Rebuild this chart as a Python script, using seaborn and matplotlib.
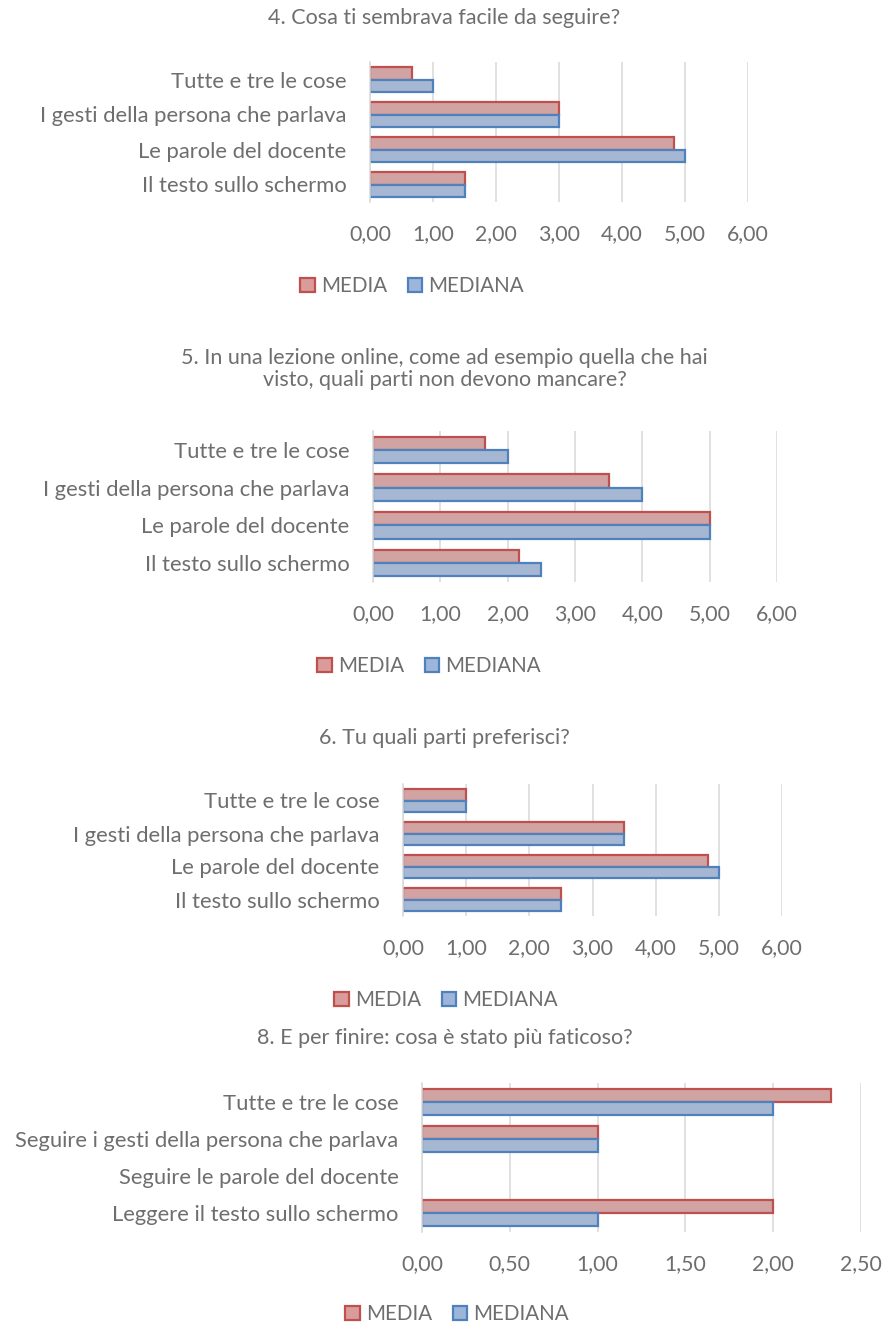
import matplotlib
matplotlib.use("Agg")
import matplotlib.pyplot as plt
import seaborn as sns
import pandas as pd
from matplotlib.patches import Patch
from matplotlib.ticker import FuncFormatter, MultipleLocator

# categorie (dall'alto verso il basso, come nel grafico)
categorie_lezione = ["Tutte e tre le cose", "I gesti della persona che parlava",
                     "Le parole del docente", "Il testo sullo schermo"]
categorie_fatica = ["Tutte e tre le cose", "Seguire i gesti della persona che parlava",
                    "Seguire le parole del docente", "Leggere il testo sullo schermo"]

# domanda 4
q4_media = [0.67, 3.00, 4.83, 1.50]
q4_mediana = [1.00, 3.00, 5.00, 1.50]
# domanda 5
q5_media = [1.67, 3.50, 5.00, 2.17]
q5_mediana = [2.00, 4.00, 5.00, 2.50]
# domanda 6
q6_media = [1.00, 3.50, 4.83, 2.50]
q6_mediana = [1.00, 3.50, 5.00, 2.50]
# domanda 8
q8_media = [2.33, 1.00, 0.00, 2.00]
q8_mediana = [2.00, 1.00, 0.00, 1.00]

titoli = ["4. Cosa ti sembrava facile da seguire?",
          "5. In una lezione online, come ad esempio quella che hai\nvisto, quali parti non devono mancare?",
          "6. Tu quali parti preferisci?",
          "8. E per finire: cosa è stato più faticoso?"]

FILL = {"MEDIA": "#D99C9B", "MEDIANA": "#9DB5DA"}
EDGE = {"MEDIA": "#C0504D", "MEDIANA": "#4F81BD"}
GREY = "#6E6E6E"
FONT = ["Lato", "DejaVu Sans"]
FS = 15.8

W, H = 889, 1326
fig = plt.figure(figsize=(W / 100, H / 100), dpi=100)
plt.rcParams["font.family"] = FONT

# posizioni in pixel: left, right, top, bottom, xmax, step, title_y, legend_y, legend_x
layout = [
    (370, 748, 62, 202, 6, 1, 18, 286, 412),
    (373, 777, 431, 582, 6, 1, 369, 666, 429),
    (403, 782, 784, 916, 6, 1, 738, 1000, 446),
    (422, 861, 1083, 1232, 2.5, 0.5, 1038, 1314, 457),
]

pannelli = [
    (categorie_lezione, q4_media, q4_mediana),
    (categorie_lezione, q5_media, q5_mediana),
    (categorie_lezione, q6_media, q6_mediana),
    (categorie_fatica, q8_media, q8_mediana),
]

comma = FuncFormatter(lambda v, p: f"{v:.2f}".replace(".", ","))

for (cats, media, mediana), lay, titolo in zip(pannelli, layout, titoli):
    left, right, top, bottom, xmax, step, ty, ly, lx = lay
    ax = fig.add_axes([left / W, 1 - bottom / H, (right - left) / W, (bottom - top) / H])
    df = pd.DataFrame({
        "categoria": cats * 2,
        "valore": media + mediana,
        "serie": ["MEDIA"] * len(cats) + ["MEDIANA"] * len(cats),
    })
    sns.barplot(data=df, y="categoria", x="valore", hue="serie", order=cats,
                hue_order=["MEDIA", "MEDIANA"], palette=FILL, orient="y",
                width=0.7, linewidth=1.6, ax=ax, legend=False)
    for cont, serie in zip(ax.containers, ["MEDIA", "MEDIANA"]):
        for bar in cont:
            bar.set_edgecolor(EDGE[serie])
            if bar.get_width() == 0:
                bar.set_linewidth(0)
    ax.set_xlim(0, xmax)
    ax.xaxis.set_major_locator(MultipleLocator(step))
    ax.xaxis.set_major_formatter(comma)
    ax.grid(axis="x", color="#D9D9D9", linewidth=1.1)
    ax.set_axisbelow(True)
    for s in ["top", "right", "bottom"]:
        ax.spines[s].set_visible(False)
    ax.spines["left"].set_color("#D9D9D9")
    ax.spines["left"].set_linewidth(1.1)
    ax.set_xlabel("")
    ax.set_ylabel("")
    ax.tick_params(axis="x", length=0, pad=16, labelsize=FS - 0.5, labelcolor=GREY)
    ax.tick_params(axis="y", length=0, pad=17, labelsize=FS, labelcolor=GREY)
    ax.set_facecolor("none")

    fig.text(0.5, 1 - ty / H, titolo, ha="center", va="center", fontsize=FS - 0.3,
             color=GREY, linespacing=1.12)
    handles = [Patch(facecolor=FILL[k], edgecolor=EDGE[k], linewidth=1.6, label=k)
               for k in ["MEDIA", "MEDIANA"]]
    fig.legend(handles=handles, loc="center", bbox_to_anchor=(lx / W, 1 - ly / H),
               ncol=2, frameon=False, fontsize=FS - 1, labelcolor=GREY,
               handlelength=0.7, handleheight=0.7, handletextpad=0.3, columnspacing=1.0)

fig.savefig("out.png", dpi=100, facecolor="white")
